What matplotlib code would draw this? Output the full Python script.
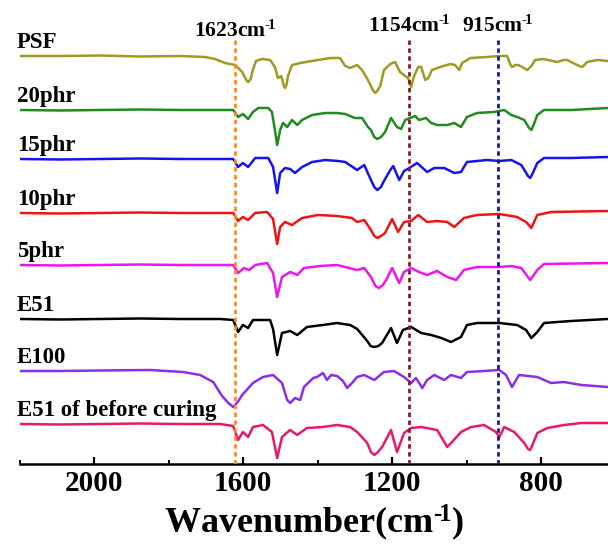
import matplotlib

matplotlib.use("Agg")
import matplotlib.pyplot as plt
from matplotlib.ticker import FixedLocator

plt.rcParams["font.family"] = ["Liberation Serif", "DejaVu Serif"]
plt.rcParams["font.weight"] = "bold"
plt.rcParams["mathtext.fontset"] = "custom"
plt.rcParams["mathtext.rm"] = "Liberation Serif:bold"
plt.rcParams["mathtext.it"] = "Liberation Serif:bold"
plt.rcParams["mathtext.bf"] = "Liberation Serif:bold"

# spectra: wavenumber (cm-1) and relative transmittance
wn_psf = [2200, 2092, 1985, 1877, 1770, 1703, 1676, 1649, 1622, 1603, 1592, 1587, 1580, 1576,
          1566, 1550, 1528, 1515, 1507, 1498, 1491, 1488, 1484, 1480, 1469, 1447, 1415, 1399,
          1367, 1340, 1326, 1313, 1294, 1281, 1265, 1252, 1246, 1240, 1232, 1222, 1205, 1192,
          1179, 1165, 1157, 1149, 1141, 1130, 1122, 1111, 1103, 1093, 1071, 1044,
          1031, 1020, 1012, 990, 945, 910, 891, 883, 878, 869, 861, 851, 837, 826,
          816, 794, 757, 740, 730, 714, 697, 689, 676, 649, 620]
t_psf = [0, 0, 0.5, -0.5, 0, -1, -3, -7, -9, -16, -24, -26, -23, -16,
         -5, -3, -4, -11, -22, -20, -30, -32, -29, -20, -9, -7, -5, -4,
         -2, -2, -10, -12, -9, -14, -24, -34, -37, -35, -30, -14, -8, -6,
         -16, -20, -22, -31, -20, -11, -11, -24, -22, -14, -11, -8,
         -9, -14, -7, -2, -1, 0, 0, -8, -11, -9, -9, -11, -14, -10,
         -4, -3, -6, -4, -4, -7, -10, -11, -6, -4, -5]

wn_20 = [2200, 2092, 1985, 1877, 1770, 1662, 1627, 1614, 1601, 1587, 1574, 1560,
         1533, 1523, 1515, 1509, 1501, 1493, 1482, 1469, 1455, 1442, 1415, 1380,
         1348, 1326, 1300, 1281, 1265, 1257, 1248, 1240, 1230, 1219, 1203, 1187, 1176, 1165,
         1152, 1138, 1128, 1109, 1095, 1079, 1052, 1033, 1015, 999, 972, 926, 899,
         880, 864, 845, 832, 826, 820, 810, 792, 719, 620]
t_20 = [0, -0.5, 0, 0.5, 0, 0, 0, -7, -4, -9, -2, 2,
        2, -2, -20, -35, -20, -13, -17, -10, -15, -10, -5, -3,
        -3, -4, -8, -8, -17, -20, -27, -29, -27, -22, -8, -17, -19, -10,
        -8, -6, -10, -8, -13, -15, -15, -13, -17, -7, -3, -2, 0,
        -5, -7, -10, -18, -20, -15, -5, 0, 0, 2]

wn_15 = [2200, 2092, 1985, 1877, 1770, 1662, 1627, 1614, 1601, 1587, 1568, 1533,
         1520, 1509, 1501, 1488, 1474, 1461, 1442, 1415, 1380, 1345, 1326, 1294,
         1275, 1257, 1248, 1240, 1230, 1222, 1205, 1197, 1181, 1168, 1154, 1133, 1106, 1087,
         1060, 1033, 1015, 999, 945, 912, 880, 853, 835, 829, 822, 810, 792, 719, 620]
t_15 = [0, -0.5, 0, 0.5, 0, 0, 0, -8, -4, -8, 1, 1,
        -8, -34, -14, -9, -10, -14, -8, -3, -1, -2, -3, -11,
        -6, -21, -28, -31, -28, -22, -11, -7, -21, -12, -9, -4, -13, -9,
        -9, -14, -13, -3, -1, -2, -1, -6, -17, -19, -14, -4, 1, 1, 2]

wn_10 = [2200, 2092, 1985, 1877, 1770, 1662, 1627, 1614, 1601, 1587, 1568, 1536,
         1520, 1509, 1501, 1488, 1469, 1442, 1399, 1348, 1308, 1294, 1275, 1257,
         1248, 1240, 1230, 1219, 1200, 1184, 1168, 1149, 1130, 1106, 1079, 1052, 1033, 1007,
         972, 912, 864, 840, 826, 810, 773, 620]
t_10 = [0, -0.5, 0, 0.5, 0, 0, 0, -8, -4, -7, 0, 1,
        -6, -31, -14, -9, -12, -5, -2, -3, -5, -9, -7, -17,
        -23, -25, -23, -20, -6, -19, -9, -8, -2, -9, -8, -9, -14, -5,
        -2, -1, -4, -9, -15, -2, 1, 2]

wn_5 = [2200, 2092, 1985, 1877, 1770, 1662, 1627, 1614, 1598, 1584, 1568, 1536,
        1520, 1509, 1496, 1474, 1455, 1437, 1394, 1348, 1294, 1275, 1257, 1245, 1235,
        1225, 1216, 1200, 1181, 1168, 1149, 1128, 1106, 1079, 1052, 1028, 1007, 972,
        912, 880, 853, 829, 810, 792, 620]
t_5 = [0, -0.5, 0, 0.5, 0, 0, 0, -8, -3, -5, 0, 2,
       -8, -32, -12, -7, -10, -3, -1, 0, -5, -3, -12, -21, -23,
       -20, -15, -3, -18, -7, -3, -7, -10, -6, -12, -15, -5, -2,
       -2, -1, -3, -15, -5, 1, 2]

wn_e51 = [2200, 2092, 1985, 1877, 1770, 1662, 1627, 1614, 1601, 1587, 1574, 1528,
          1520, 1509, 1496, 1474, 1455, 1429, 1386, 1348, 1313, 1294, 1267, 1258, 1248,
          1237, 1227, 1203, 1187, 1171, 1149, 1122, 1095, 1068, 1042, 1015, 999, 972,
          912, 864, 840, 826, 810, 792, 719, 620]
t_e51 = [0, -0.5, 0, 0.5, 0, 0, -1, -13, -6, -9, -1, -1,
         -10, -36, -14, -12, -16, -8, -6, -4, -6, -10, -22, -27, -28,
         -27, -24, -9, -24, -11, -8, -14, -16, -19, -23, -18, -6, -4,
         -4, -6, -11, -19, -13, -4, -2, 0]

wn_e100 = [2200, 2092, 1985, 1851, 1762, 1716, 1681, 1657, 1640, 1627, 1615, 1603, 1574, 1547,
           1520, 1496, 1482, 1474, 1461, 1447, 1437, 1412, 1402, 1386, 1375, 1364,
           1348, 1332, 1321, 1308, 1294, 1275, 1248, 1222, 1195, 1168, 1149, 1136,
           1119, 1106, 1087, 1060, 1042, 1015, 999, 953, 912, 894, 878, 859, 810,
           773, 738, 692, 620]
t_e100 = [0, 0, 0.5, 1, -1, -4, -11, -25, -32, -36, -31, -24, -12, -6,
          -4, -12, -29, -32, -27, -29, -16, -7, -6, -2, -9, -4,
          -5, -10, -17, -12, -6, -4, -9, -1, 0, -6, -12, -7,
          -17, -9, -4, -9, -4, -7, -1, 0, 1, -4, -16, -4, -6,
          -12, -11, -14, -16]

wn_pre = [2200, 2092, 1985, 1877, 1770, 1662, 1627, 1614, 1601, 1587, 1574, 1547,
          1523, 1509, 1496, 1474, 1455, 1429, 1386, 1348, 1313, 1294, 1267, 1257, 1248,
          1238, 1227, 1203, 1187, 1168, 1149, 1122, 1079, 1052, 1039, 1015, 988, 953,
          921, 912, 899, 872, 845, 835, 829, 822, 810, 783, 738, 692, 620]
t_pre = [0, -0.5, 0, 0.5, 0, 0, -2, -16, -8, -13, -3, -1,
         -8, -34, -13, -6, -11, -4, -3, -1, -3, -8, -19, -28, -31,
         -28, -23, -6, -28, -9, -4, -3, -6, -23, -18, -8, -3, -1,
         -8, -13, -3, -8, -19, -25, -26, -20, -9, -4, -1, 1, 1]

labels = ["PSF", "20phr", "15phr", "10phr", "5phr", "E51", "E100",
          "E51 of before curing"]
spectra = [(wn_psf, t_psf), (wn_20, t_20), (wn_15, t_15), (wn_10, t_10),
           (wn_5, t_5), (wn_e51, t_e51), (wn_e100, t_e100), (wn_pre, t_pre)]

marker_wn = [1623, 1154, 915]
sup = "$^{\u2010\\!1}$"
marker_text = [f"{w}cm{sup}" for w in marker_wn]

# layout / style
offsets = [408, 354, 305, 251, 199, 145, 93, 40]
colors = ["#9c9c22", "#1f8c1f", "#1414ee", "#ee1414", "#ee14ee", "#000000",
          "#8a2ee8", "#e8186e"]
marker_colors = ["#ff8c1a", "#8b1a2a", "#1a1a99"]
marker_text_y = [427, 432, 432]

fig = plt.figure(figsize=(6.08, 5.52), dpi=100)
ax = fig.add_axes([20 / 608, 88 / 552, 588 / 608, 464 / 552])

for (wn, t), off, col, lab in zip(spectra, offsets, colors, labels):
    ax.plot(wn, [v + off for v in t], color=col, lw=1.8,
            solid_joinstyle="round", solid_capstyle="round")
    ax.text(2209, off + 8, lab, fontsize=16.5, fontweight="bold",
            ha="left", va="baseline", clip_on=False)

for w, col, txt, ty in zip(marker_wn, marker_colors, marker_text, marker_text_y):
    ax.axvline(w, ymin=0, ymax=425 / 464, color=col, lw=2,
               dashes=(1.6, 1.25), zorder=3)
    ax.text(w, ty, txt, fontsize=15.5, fontweight="bold",
            ha="center", va="baseline")

ax.set_xlim(2200, 620)
ax.set_ylim(0, 464)
for side in ["left", "right", "top"]:
    ax.spines[side].set_visible(False)
ax.spines["bottom"].set_linewidth(1.8)
ax.set_yticks([])
ax.xaxis.set_major_locator(FixedLocator([2000, 1600, 1200, 800]))
ax.xaxis.set_minor_locator(FixedLocator([2200, 1800, 1400, 1000]))
ax.tick_params(axis="x", which="major", direction="in", length=5, width=1.6,
               labelsize=21, pad=4)
ax.tick_params(axis="x", which="minor", direction="in", length=3, width=1.4)
for lbl in ax.get_xticklabels():
    lbl.set_fontweight("bold")
ax.set_xlabel(f"Wavenumber(cm{sup})", fontsize=26, fontweight="bold",
              labelpad=4)

fig.savefig("out.png", dpi=100)
plt.close(fig)
